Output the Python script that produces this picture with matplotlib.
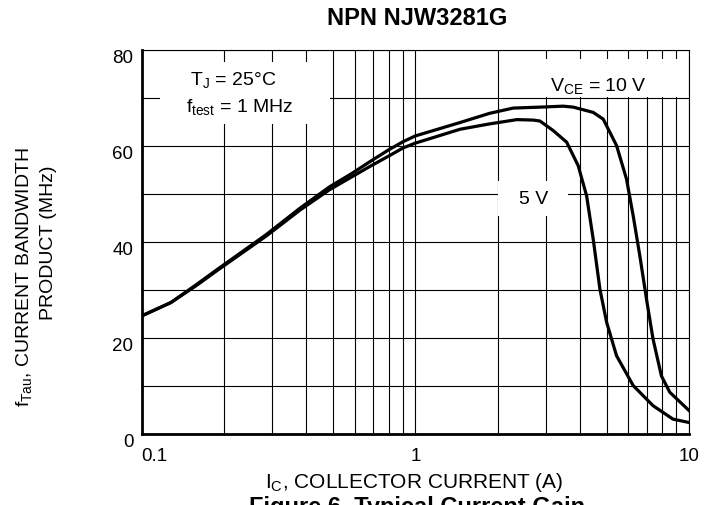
import matplotlib
matplotlib.use('Agg')
import matplotlib.pyplot as plt
from matplotlib.patches import Rectangle
from matplotlib.transforms import ScaledTranslation

plt.rcParams['font.family'] = ['Liberation Sans', 'DejaVu Sans']
plt.rcParams['mathtext.fontset'] = 'custom'
plt.rcParams['mathtext.rm'] = 'Liberation Sans'
plt.rcParams['mathtext.it'] = 'Liberation Sans'
plt.rcParams['mathtext.default'] = 'regular'

# ---------------- datos ----------------
ic_10v = [0.1, 0.128, 0.160, 0.188, 0.2845, 0.380, 0.486, 0.583, 0.685, 0.799, 0.902, 1.0,
          1.459, 1.866, 2.277, 2.855, 3.473, 3.777, 4.467, 4.86, 5.437, 5.913, 6.252, 6.61,
          6.995, 7.39, 7.93, 8.51, 10.0]
ft_10v = [24.6, 27.4, 31.3, 34.2, 41.5, 47.1, 51.5, 54.2, 56.8, 59.2, 60.9, 62.1,
          64.9, 66.8, 67.9, 68.1, 68.3, 68.1, 67.0, 65.6, 60.1, 53.1, 45.5, 37.2,
          28.1, 19.8, 12.1, 8.7, 4.9]

ic_5v = [0.1, 0.128, 0.160, 0.188, 0.2845, 0.380, 0.486, 0.583, 0.685, 0.799, 0.902, 1.0,
         1.459, 1.866, 2.35, 2.70, 2.855, 3.193, 3.573, 3.777, 3.937, 4.227, 4.467, 4.726,
         5.0, 5.437, 6.252, 7.39, 8.74, 10.0]
ft_5v = [24.6, 27.4, 31.1, 34.0, 41.2, 46.7, 50.9, 53.5, 55.8, 57.9, 59.6, 60.6,
         63.5, 64.6, 65.5, 65.4, 65.2, 63.2, 60.8, 58.0, 55.9, 49.6, 40.6, 30.2,
         23.3, 16.3, 10.1, 5.9, 3.1, 2.4]

x_ticks = [0.1, 1, 10]
x_tick_labels = ['0.1', '1', '10']
y_ticks = [0, 20, 40, 60, 80]

# ---------------- figura ----------------
fig = plt.figure(figsize=(7.13, 5.06), dpi=100)
ax = fig.add_axes([0.1987, 0.1403, 0.7676, 0.7589])

ax.plot(ic_10v, ft_10v, color='black', lw=2.3, zorder=3, solid_joinstyle='round')
ax.plot(ic_5v, ft_5v, color='black', lw=2.3, zorder=3, solid_joinstyle='round')

ax.set_xscale('log')
ax.set_xlim(0.1, 10)
ax.set_ylim(0, 80)
ax.set_xticks(x_ticks)
ax.set_xticklabels(x_tick_labels)
ax.set_yticks(y_ticks)
ax.set_yticks(range(10, 80, 20), minor=True)

ax.set_axisbelow(True)
ax.grid(True, which='both', color='black', lw=0.8)
ax.tick_params(which='both', length=0, labelsize=13.5)
ax.tick_params(axis='x', pad=9)
ax.tick_params(axis='y', pad=6)

for sp in ['left', 'bottom']:
    ax.spines[sp].set_linewidth(2.0)
for sp in ['top', 'right']:
    ax.spines[sp].set_linewidth(0.8)

# alineacion de las etiquetas de los extremos
xl = ax.get_xticklabels()
xl[0].set_ha('left')
for lbl in ax.get_yticklabels():
    lbl.set_transform(lbl.get_transform() + ScaledTranslation(0, -4 / 72, fig.dpi_scale_trans))

# ---------------- cajas blancas y textos ----------------
def caja(x0, y0, x1, y1):
    # coordenadas en pixeles de la imagen -> ejes
    ax.add_patch(Rectangle(((x0 - 141.7) / 547.3, (435 - y1) / 384),
                           (x1 - x0) / 547.3, (y1 - y0) / 384,
                           transform=ax.transAxes, facecolor='white',
                           edgecolor='none', zorder=2))

caja(160, 63, 330, 125)
caja(540, 60, 686, 98)
caja(498, 182, 568, 217)

ax.text(0.167, 0.924, 'T$_J$ = 25°C', transform=ax.transAxes, ha='center', va='center',
        fontsize=14, zorder=4)
ax.text(0.180, 0.853, 'f$_{test}$ = 1 MHz', transform=ax.transAxes, ha='center', va='center',
        fontsize=14, zorder=4)
ax.text(0.834, 0.908, 'V$_{CE}$ = 10 V', transform=ax.transAxes, ha='center', va='center',
        fontsize=14, zorder=4)
ax.text(0.717, 0.614, '5 V', transform=ax.transAxes, ha='center', va='center',
        fontsize=14, zorder=4)

# ---------------- titulos y ejes ----------------
fig.text(417 / 713, 1 - 18.3 / 506, 'NPN NJW3281G', ha='center', va='center',
         fontsize=17, fontweight='bold')
fig.text(414 / 713, 1 - 482 / 506, 'I$_C$, COLLECTOR CURRENT (A)', ha='center', va='center',
         fontsize=15)
fig.text(24 / 713, 1 - 277 / 506, 'f$_{Tau}$, CURRENT BANDWIDTH', ha='center', va='center',
         rotation=90, fontsize=14)
fig.text(49 / 713, 1 - 243 / 506, 'PRODUCT (MHz)', ha='center', va='center',
         rotation=90, fontsize=14)
fig.text(417 / 713, 1 - 514 / 506, 'Figure 6. Typical Current Gain', ha='center',
         va='baseline', fontsize=17, fontweight='bold')

fig.savefig('out.png', dpi=100)
